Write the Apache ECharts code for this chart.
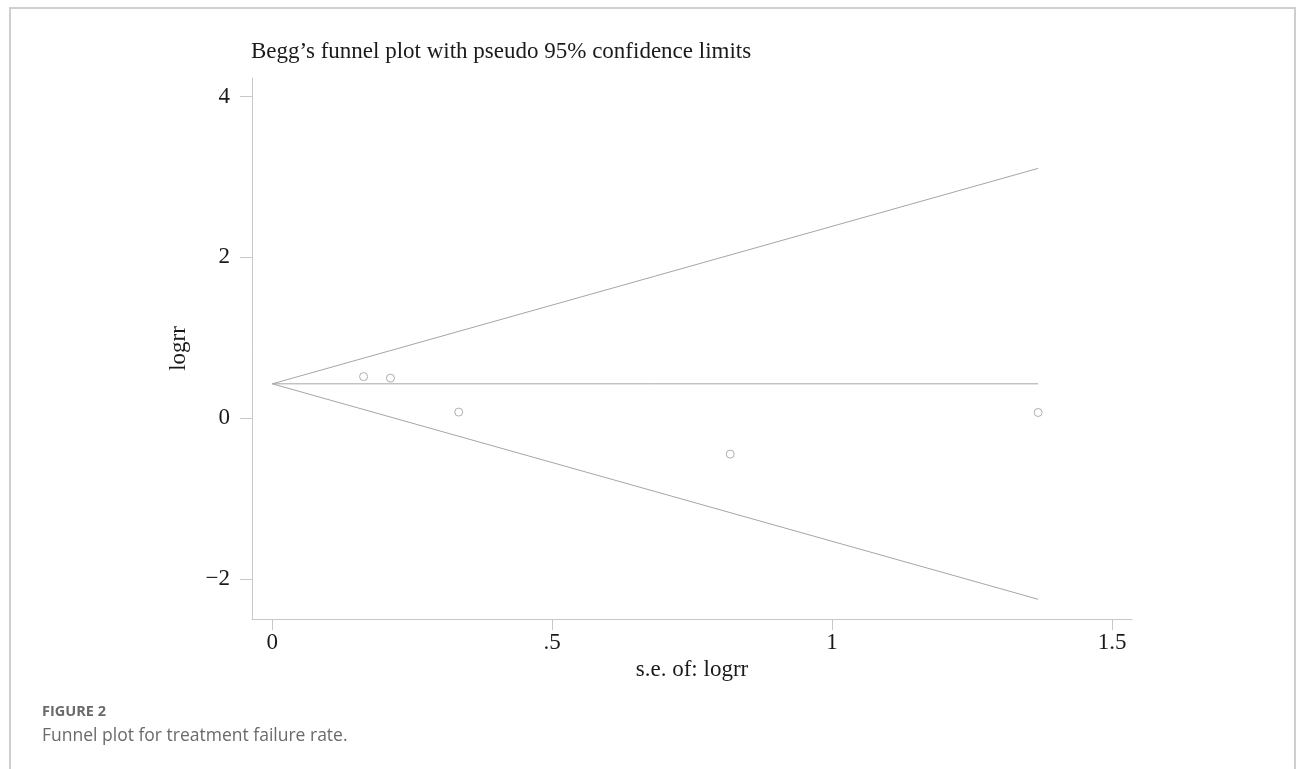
<!DOCTYPE html>
<html>
<head>
<meta charset="utf-8">
<title>Begg's funnel plot</title>
<script src="https://cdn.jsdelivr.net/npm/echarts@6/dist/echarts.min.js"></script>
<style>
  html, body { margin: 0; padding: 0; background: #ffffff; }
  #chart { width: 1296px; height: 769px; }
</style>
</head>
<body>
<div id="chart"></div>
<script>
// Study-level standard errors and log risk ratios
const seLogrr = [0.163, 0.211, 0.333, 0.818, 1.368];
const logrr = [0.517, 0.498, 0.075, -0.448, 0.070];

// Pooled (fixed-effect) log risk ratio and the 95% normal quantile
const pooledLogrr = 0.427;
const z95 = 1.96;

// Axis ticks and their printed labels
const xTicks = [0, 0.5, 1, 1.5];
const xTickLabels = ['0', '.5', '1', '1.5'];
const yTicks = [-2, 0, 2, 4];
const yTickLabels = ['\u22122', '0', '2', '4'];

const seMax = Math.max.apply(null, seLogrr);
const points = seLogrr.map((s, i) => [s, logrr[i]]);
const pooledLine = [[0, pooledLogrr], [seMax, pooledLogrr]];
const upperLimit = [[0, pooledLogrr], [seMax, pooledLogrr + z95 * seMax]];
const lowerLimit = [[0, pooledLogrr], [seMax, pooledLogrr - z95 * seMax]];

const serif = '"Liberation Serif", "Times New Roman", serif';
const axisGrey = '#c8c8c8';
const lineGrey = '#a6a6a6';

const chart = echarts.init(document.getElementById('chart'), null, { renderer: 'canvas' });

const lineSeries = (name, data) => ({
  name: name,
  type: 'line',
  data: data,
  symbol: 'none',
  silent: true,
  animation: false,
  lineStyle: { color: lineGrey, width: 1 },
  z: 2
});

chart.setOption({
  backgroundColor: '#ffffff',
  animation: false,
  title: {
    text: 'Begg\u2019s funnel plot with pseudo 95% confidence limits',
    left: 246,
    top: 35,
    textStyle: { fontFamily: serif, fontSize: 23, fontWeight: 'normal', color: '#1a1a1a' }
  },
  grid: { left: 252, right: 164, top: 78, bottom: 150, containLabel: false },
  xAxis: {
    type: 'value',
    min: -0.0363,
    max: 1.5357,
    name: 's.e. of: logrr',
    nameLocation: 'middle',
    nameGap: 32,
    nameTextStyle: { fontFamily: serif, fontSize: 23, color: '#1a1a1a' },
    axisLine: { show: true, onZero: false, lineStyle: { color: axisGrey, width: 1 } },
    axisTick: { show: true, length: 11, customValues: xTicks, lineStyle: { color: axisGrey } },
    axisLabel: {
      customValues: xTicks,
      margin: 12,
      fontFamily: serif,
      fontSize: 23,
      color: '#1a1a1a',
      formatter: v => xTickLabels[xTicks.indexOf(v)] ?? ''
    },
    splitLine: { show: false }
  },
  yAxis: {
    type: 'value',
    min: -2.5,
    max: 4.233,
    name: 'logrr',
    nameLocation: 'middle',
    nameGap: 62,
    nameRotate: 90,
    nameTextStyle: { fontFamily: serif, fontSize: 23, color: '#1a1a1a' },
    axisLine: { show: true, onZero: false, lineStyle: { color: axisGrey, width: 1 } },
    axisTick: { show: true, length: 12, customValues: yTicks, lineStyle: { color: axisGrey } },
    axisLabel: {
      customValues: yTicks,
      margin: 22,
      fontFamily: serif,
      fontSize: 23,
      color: '#1a1a1a',
      formatter: v => yTickLabels[yTicks.indexOf(v)] ?? ''
    },
    splitLine: { show: false }
  },
  series: [
    lineSeries('upper limit', upperLimit),
    lineSeries('pooled', pooledLine),
    lineSeries('lower limit', lowerLimit),
    {
      name: 'studies',
      type: 'scatter',
      data: points,
      symbol: 'circle',
      symbolSize: 8,
      silent: true,
      itemStyle: { color: 'rgba(255,255,255,0)', borderColor: '#9a9a9a', borderWidth: 1 },
      z: 3
    }
  ],
  graphic: [
    {
      type: 'polyline',
      silent: true,
      shape: { points: [[10, 769], [10, 8], [1295, 8], [1295, 769]] },
      style: { stroke: '#cfcfcf', lineWidth: 2, fill: null }
    },
    {
      type: 'text',
      left: 42,
      top: 704,
      silent: true,
      style: {
        text: 'FIGURE 2',
        font: 'bold 14.5px "Open Sans", sans-serif',
        fill: '#6a6a6a'
      }
    },
    {
      type: 'text',
      left: 42,
      top: 727,
      silent: true,
      style: {
        text: 'Funnel plot for treatment failure rate.',
        font: '17.5px "Open Sans", sans-serif',
        fill: '#6a6a6a'
      }
    }
  ]
});
</script>
</body>
</html>
